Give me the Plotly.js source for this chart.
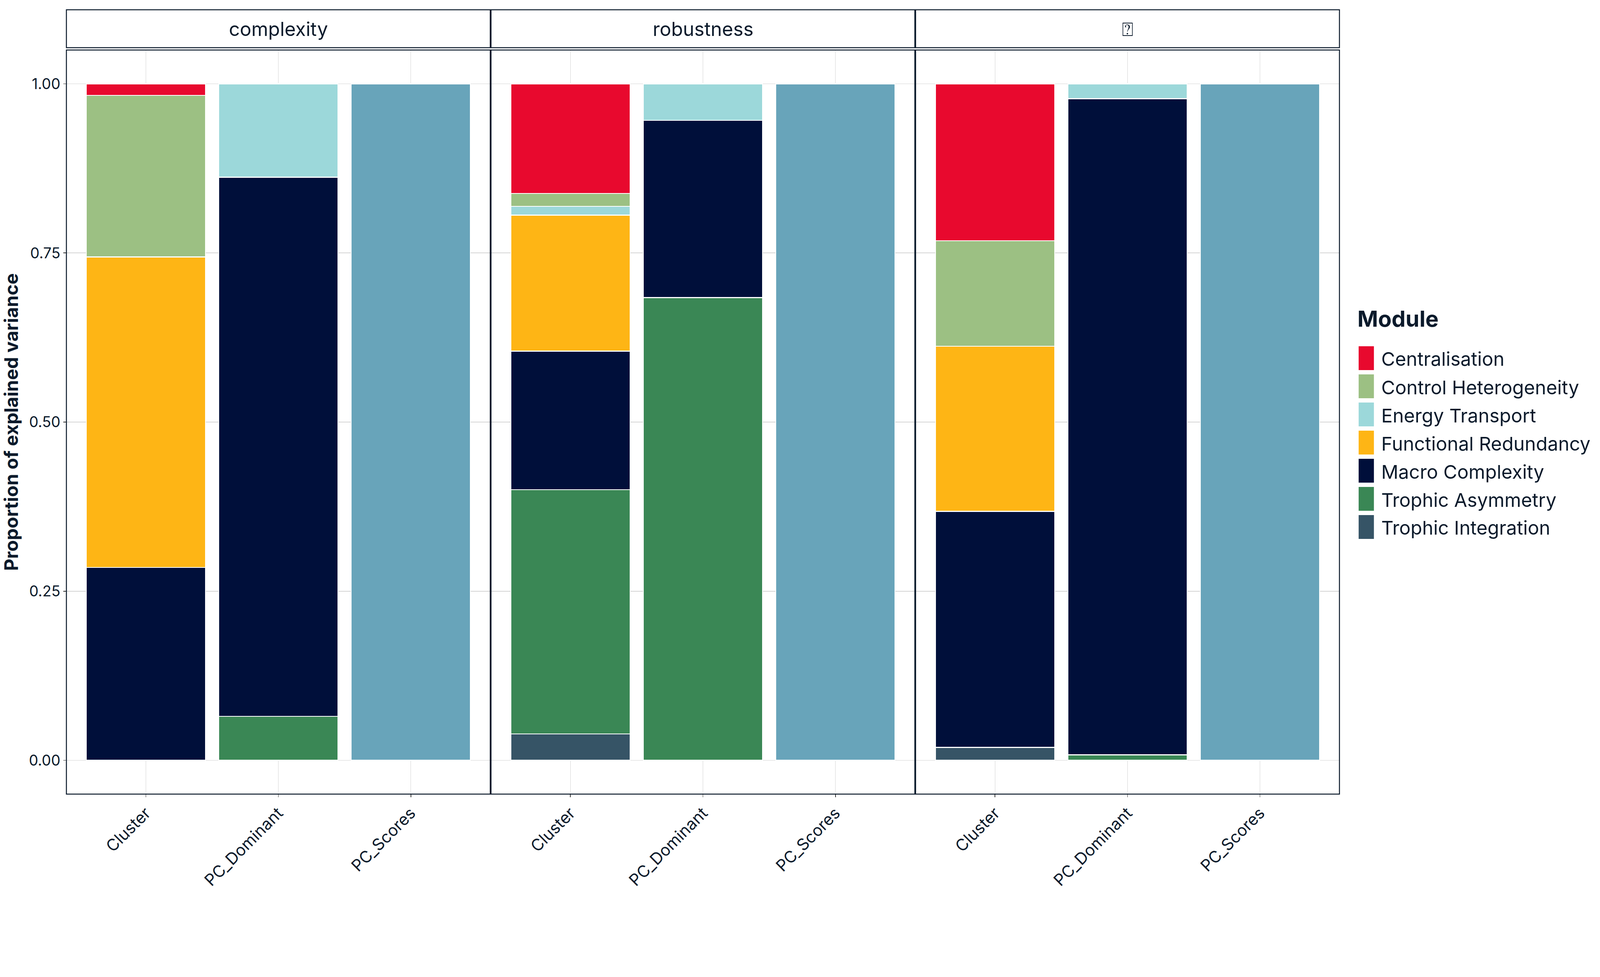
<!DOCTYPE html>
<html><head><meta charset="utf-8">
<script src="https://cdn.plot.ly/plotly-3.0.1.min.js"></script>
<style>html,body{margin:0;padding:0;background:#fff;overflow:hidden}</style>
</head><body><div id="chart"></div>
<script>
// ---------------- data ----------------
const categories = ['Cluster', 'PC_Dominant', 'PC_Scores'];
const facets = ['complexity', 'robustness', '\u2370'];
const modules = ['Centralisation', 'Control Heterogeneity', 'Energy Transport', 'Functional Redundancy', 'Macro Complexity', 'Trophic Asymmetry', 'Trophic Integration'];
const moduleColors = ['#E8092E', '#9CC083', '#9CD8DA', '#FEB515', '#000F3A', '#3A8755', '#365466'];
// rows = facets (complexity, robustness, third), columns = categories
const centralisation       = [[0.017, null, null], [0.162, null, null], [0.232, null, null]];
const controlHeterogeneity = [[0.239, null, null], [0.019, null, null], [0.156, null, null]];
const energyTransport      = [[null, 0.138, null], [0.013, 0.054, null], [null, 0.022, null]];
const functionalRedundancy = [[0.459, null, null], [0.201, null, null], [0.244, null, null]];
const macroComplexity      = [[0.285, 0.797, null], [0.205, 0.262, null], [0.349, 0.970, null]];
const trophicAsymmetry     = [[null, 0.065, null], [0.361, 0.684, null], [null, 0.008, null]];
const trophicIntegration   = [[null, null, null], [0.039, null, null], [0.019, null, null]];
const pcScores             = [[null, null, 1.0], [null, null, 1.0], [null, null, 1.0]];
const pcScoresColor = '#68A4BA';
const yTickVals = [0, 0.25, 0.5, 0.75, 1];
const yTickText = ['0.00', '0.25', '0.50', '0.75', '1.00'];

// ---------------- geometry (reference pixels, scaled to the window) ----------------
const VW = window.innerWidth || 6500, VH = window.innerHeight || 2500;
const S = VW / 6500, SY = VH / 2500;
const s = v => v * S;
const FONT = "Inter, 'Noto Sans', 'DejaVu Sans', sans-serif";
const INK = '#0B1A2B';
const GRID = '#D4D4D4';
const moduleValues = [centralisation, controlHeterogeneity, energyTransport, functionalRedundancy, macroComplexity, trophicAsymmetry, trophicIntegration];
const axIds = ['x', 'x2', 'x3'];
const axNames = ['xaxis', 'xaxis2', 'xaxis3'];
const L = 270, R = 5442, T = 128, B = 2032;
const PX = X => (X - L) / (R - L);
const PY = Y => (B - Y) / (B - T);
const gap = 3, pw = ((R - L) - 2 * gap) / 3;
const domains = [0, 1, 2].map(i => [i * (pw + gap) / (R - L), (i * (pw + gap) + pw) / (R - L)]);

document.getElementById('chart').style.width = VW + 'px';
document.getElementById('chart').style.height = VH + 'px';

const traces = [];
facets.forEach((f, fi) => {
  for (let m = modules.length - 1; m >= 0; m--) {
    traces.push({
      type: 'bar', x: categories, y: moduleValues[m][fi],
      xaxis: axIds[fi], yaxis: 'y', name: modules[m], legendgroup: modules[m],
      showlegend: false, width: 0.9,
      marker: {color: moduleColors[m], line: {color: '#FFFFFF', width: s(4)}},
      hoverinfo: 'name+y'
    });
  }
  traces.push({
    type: 'bar', x: categories, y: pcScores[fi],
    xaxis: axIds[fi], yaxis: 'y', name: 'PC_Scores', showlegend: false, width: 0.9,
    marker: {color: pcScoresColor, line: {color: '#FFFFFF', width: s(4)}},
    hoverinfo: 'name+y'
  });
});

const layout = {
  width: VW, height: VH,
  paper_bgcolor: '#FFFFFF', plot_bgcolor: '#FFFFFF',
  margin: {l: L * S, r: (6500 - R) * S, t: T * SY, b: (2500 - B) * SY, pad: 0},
  barmode: 'stack',
  showlegend: false,
  font: {family: FONT, color: INK},
  yaxis: {
    anchor: 'x', domain: [0, 1], range: [-0.05, 1.05],
    tickmode: 'array', tickvals: yTickVals, ticktext: yTickText,
    ticks: 'outside', ticklen: s(11), tickwidth: s(3), tickcolor: '#333333',
    tickfont: {family: FONT, size: s(60), color: INK},
    showgrid: true, gridcolor: GRID, gridwidth: s(2.5), zeroline: false, showline: false,
    title: {text: 'Proportion of explained variance', standoff: s(40),
            font: {family: FONT, size: s(76), color: INK, weight: 700}}
  },
  shapes: [],
  annotations: []
};

facets.forEach((f, fi) => {
  layout[axNames[fi]] = {
    anchor: 'y', domain: domains[fi], type: 'category',
    categoryorder: 'array', categoryarray: categories, range: [-0.6, 2.6],
    ticks: 'outside', ticklen: s(11), tickwidth: s(3), tickcolor: '#333333',
    tickangle: -45, tickfont: {family: FONT, size: s(66), color: INK},
    showgrid: true, gridcolor: GRID, gridwidth: s(2.5), zeroline: false, showline: false
  };
  const xr = axIds[fi] + ' domain';
  // panel border
  layout.shapes.push({type: 'rect', xref: xr, yref: 'y domain', x0: 0, x1: 1, y0: 0, y1: 1,
    line: {color: INK, width: s(4)}, fillcolor: 'rgba(0,0,0,0)', layer: 'above'});
  // strip box
  layout.shapes.push({type: 'rect', xref: xr, yref: 'paper', x0: 0, x1: 1, y0: PY(122), y1: PY(25),
    line: {color: INK, width: s(4)}, fillcolor: '#FFFFFF', layer: 'above'});
  layout.annotations.push({xref: xr, yref: 'paper', x: 0.5, y: PY(74), text: f, showarrow: false,
    xanchor: 'center', yanchor: 'middle', font: {family: FONT, size: s(78), color: INK}});
});

// legend (drawn in paper coordinates)
layout.annotations.push({xref: 'paper', yref: 'paper', x: PX(5512), y: PY(815), text: 'Module',
  showarrow: false, xanchor: 'left', yanchor: 'middle', font: {family: FONT, size: s(90), color: INK, weight: 700}});
modules.forEach((m, i) => {
  const top = 886 + 72 * i;
  layout.shapes.push({type: 'rect', xref: 'paper', yref: 'paper', x0: PX(5520), x1: PX(5582),
    y0: PY(top + 61), y1: PY(top), fillcolor: moduleColors[i], line: {width: 0}});
  layout.annotations.push({xref: 'paper', yref: 'paper', x: PX(5609), y: PY(top + 33), text: m,
    showarrow: false, xanchor: 'left', yanchor: 'middle', font: {family: FONT, size: s(77), color: INK}});
});

Plotly.newPlot('chart', traces, layout, {staticPlot: true, displayModeBar: false});
</script>
</body></html>
